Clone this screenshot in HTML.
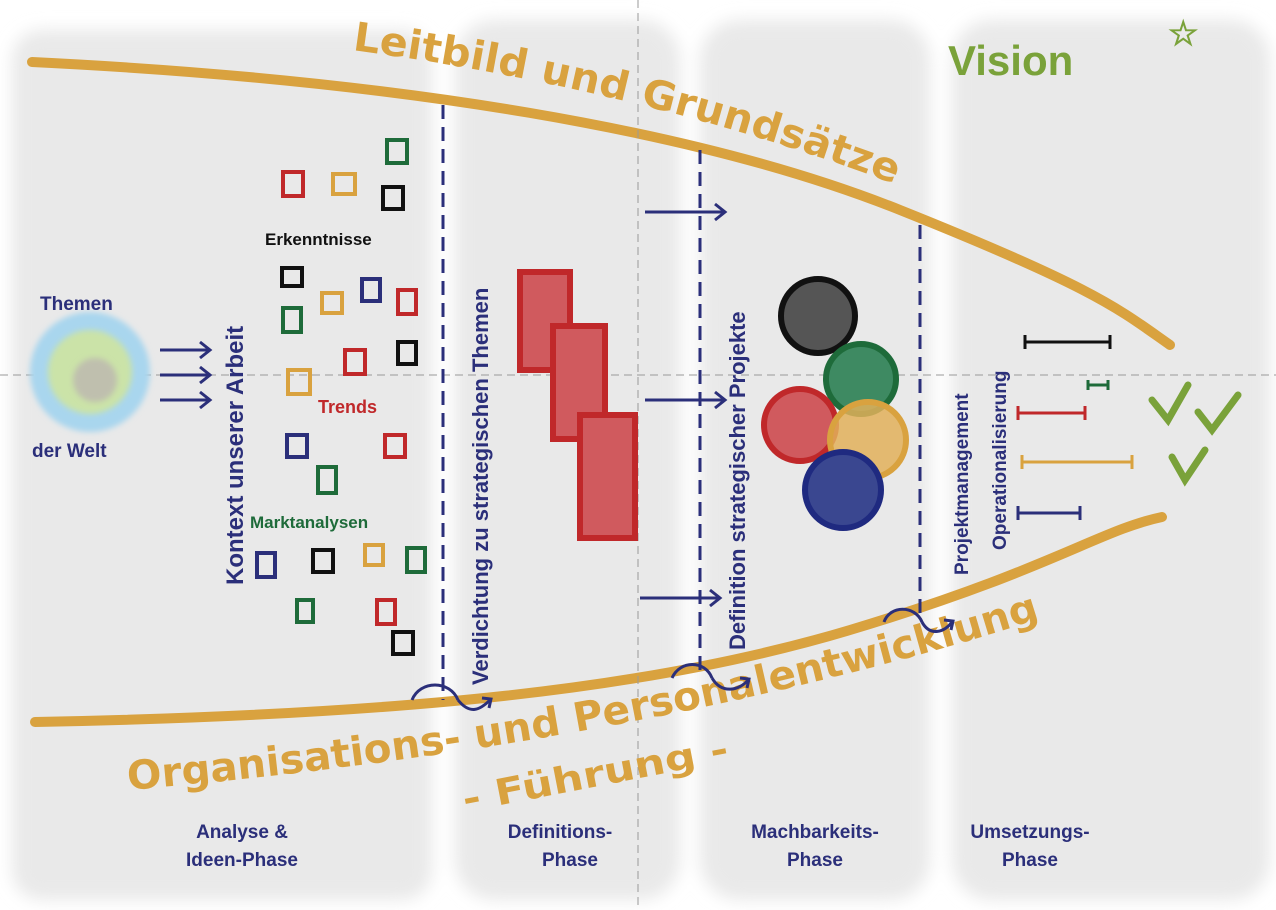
<!DOCTYPE html>
<html><head><meta charset="utf-8"><style>
html,body{margin:0;padding:0;background:#fff;}
svg{display:block;}
text{font-family:"Liberation Sans",sans-serif;font-weight:bold;}
</style></head><body>
<svg width="1276" height="910" viewBox="0 0 1276 910" xmlns="http://www.w3.org/2000/svg">
<defs>
<filter id="blur" x="-10%" y="-10%" width="120%" height="120%"><feGaussianBlur stdDeviation="8"/></filter>
<filter id="b2"><feGaussianBlur stdDeviation="3"/></filter>
<path id="tp1" d="M352 50 Q 650 90 905 188"/>
<path id="tp2" d="M128 790 Q 650 745 1052 615"/>
</defs>
<g fill="#e9e9e9" filter="url(#blur)">
<rect x="12" y="30" width="420" height="870" rx="30"/>
<rect x="455" y="20" width="225" height="880" rx="40"/>
<rect x="700" y="20" width="230" height="880" rx="40"/>
<rect x="952" y="20" width="318" height="880" rx="40"/>
</g>
<g fill="none" stroke="#d9a23f" stroke-width="10" stroke-linecap="round">
<path d="M32 62 C 400 80, 700 130, 900 210 S 1120 310, 1170 345"/>
<path d="M35 722 C 400 715, 650 690, 850 630 S 1100 530, 1162 517"/>
</g>
<g stroke="#999" stroke-width="1" stroke-dasharray="8,5">
<line x1="638" y1="0" x2="638" y2="910"/>
<line x1="0" y1="375" x2="1276" y2="375"/>
</g>
<g stroke="#2b2f7a" stroke-width="3" stroke-dasharray="14,8">
<line x1="443" y1="105" x2="443" y2="700"/>
<line x1="700" y1="150" x2="700" y2="670"/>
<line x1="920" y1="225" x2="920" y2="615"/>
</g>
<text font-size="40" fill="#d9a23f" font-weight="normal" style="font-family:'DejaVu Sans',sans-serif"><textPath href="#tp1" textLength="560" lengthAdjust="spacingAndGlyphs">Leitbild und Grundsätze</textPath></text>
<text x="948" y="75" font-size="42" fill="#7aa23a" font-weight="normal">Vision</text>
<text x="1168" y="45" font-size="34" fill="#7aa23a">☆</text>
<text font-size="40" fill="#d9a23f" font-weight="normal" style="font-family:'DejaVu Sans',sans-serif"><textPath href="#tp2" textLength="930" lengthAdjust="spacingAndGlyphs">Organisations- und Personalentwicklung</textPath></text>
<text x="465" y="812" font-size="36" fill="#d9a23f" transform="rotate(-11 465 812)" font-weight="normal" style="font-family:'DejaVu Sans',sans-serif" textLength="270" lengthAdjust="spacingAndGlyphs">- Führung -</text>
<circle cx="90" cy="372" r="60" fill="#a9d6ee" filter="url(#b2)"/>
<circle cx="90" cy="372" r="42" fill="#cbe3a8" filter="url(#b2)"/>
<circle cx="95" cy="380" r="22" fill="#bfbfae" filter="url(#b2)"/>
<text x="40" y="310" font-size="19" fill="#2b2f7a" font-weight="normal">Themen</text>
<text x="32" y="457" font-size="19" fill="#2b2f7a" font-weight="normal">der Welt</text>
<g stroke="#2b2f7a" stroke-width="3" fill="none">
<path d="M160 350 H210 M200 342 L210 350 200 358"/>
<path d="M160 375 H210 M200 367 L210 375 200 383"/>
<path d="M160 400 H210 M200 392 L210 400 200 408"/>
</g>
<text font-size="24" fill="#2b2f7a" transform="translate(243 585) rotate(-90)">Kontext unserer Arbeit</text>
<text font-size="22" fill="#2b2f7a" transform="translate(488 685) rotate(-90)">Verdichtung zu strategischen Themen</text>
<text font-size="22" fill="#2b2f7a" transform="translate(745 650) rotate(-90)">Definition strategischer Projekte</text>
<text font-size="19" fill="#2b2f7a" transform="translate(968 575) rotate(-90)">Projektmanagement</text>
<text font-size="19" fill="#2b2f7a" transform="translate(1006 550) rotate(-90)">Operationalisierung</text>
<text x="265" y="245" font-size="17" fill="#111">Erkenntnisse</text>
<text x="318" y="413" font-size="18" fill="#c0282a">Trends</text>
<text x="250" y="528" font-size="17" fill="#1e6b3a">Marktanalysen</text>
<g fill="none" stroke-width="4">
<rect x="387" y="140" width="20" height="23" stroke="#1e6b3a"/>
<rect x="283" y="172" width="20" height="24" stroke="#c0282a"/>
<rect x="333" y="174" width="22" height="20" stroke="#d9a23f"/>
<rect x="383" y="187" width="20" height="22" stroke="#111"/>
<rect x="282" y="268" width="20" height="18" stroke="#111"/>
<rect x="322" y="293" width="20" height="20" stroke="#d9a23f"/>
<rect x="362" y="279" width="18" height="22" stroke="#2b2f7a"/>
<rect x="398" y="290" width="18" height="24" stroke="#c0282a"/>
<rect x="283" y="308" width="18" height="24" stroke="#1e6b3a"/>
<rect x="345" y="350" width="20" height="24" stroke="#c0282a"/>
<rect x="398" y="342" width="18" height="22" stroke="#111"/>
<rect x="288" y="370" width="22" height="24" stroke="#d9a23f"/>
<rect x="287" y="435" width="20" height="22" stroke="#2b2f7a"/>
<rect x="385" y="435" width="20" height="22" stroke="#c0282a"/>
<rect x="318" y="467" width="18" height="26" stroke="#1e6b3a"/>
<rect x="257" y="553" width="18" height="24" stroke="#2b2f7a"/>
<rect x="313" y="550" width="20" height="22" stroke="#111"/>
<rect x="365" y="545" width="18" height="20" stroke="#d9a23f"/>
<rect x="407" y="548" width="18" height="24" stroke="#1e6b3a"/>
<rect x="297" y="600" width="16" height="22" stroke="#1e6b3a"/>
<rect x="377" y="600" width="18" height="24" stroke="#c0282a"/>
<rect x="393" y="632" width="20" height="22" stroke="#111"/>
</g>
<g fill="#d05a5e" stroke="#c0282a" stroke-width="6">
<rect x="520" y="272" width="50" height="98"/>
<rect x="553" y="326" width="52" height="113"/>
<rect x="580" y="415" width="55" height="123"/>
</g>
<g stroke="#2b2f7a" stroke-width="3" fill="none">
<path d="M645 212 H725 M715 204 L725 212 715 220"/>
<path d="M645 400 H725 M715 392 L725 400 715 408"/>
<path d="M640 598 H720 M710 590 L720 598 710 606"/>
<path d="M412 700 C 420 680, 450 680, 458 700 M458 700 C 470 715, 480 710, 490 700 M482 698 L491 699 489 708"/>
<path d="M672 678 C 680 660, 705 660, 712 678 M712 678 C 722 695, 740 690, 748 680 M740 678 L749 679 747 688"/>
<path d="M884 622 C 890 605, 915 605, 922 622 M922 622 C 930 637, 945 632, 952 622 M944 620 L953 621 951 630"/>
</g>
<g stroke-width="6">
<circle cx="818" cy="316" r="37" fill="#555" stroke="#111"/>
<circle cx="861" cy="379" r="35" fill="#3e8a62" stroke="#1e6b3a"/>
<circle cx="800" cy="425" r="36" fill="#d05a5e" stroke="#c0282a"/>
<circle cx="868" cy="440" r="38" fill="#e2b05a" stroke="#d9a23f" fill-opacity="0.85"/>
<circle cx="843" cy="490" r="38" fill="#3a4790" stroke="#1f2a80"/>
</g>
<g stroke-width="3">
<path d="M1025 342 H1110 M1025 335 V349 M1110 335 V349" stroke="#111"/>
<path d="M1088 385 H1108 M1088 380 V390 M1108 380 V390" stroke="#1e6b3a"/>
<path d="M1018 413 H1085 M1018 406 V420 M1085 406 V420" stroke="#c0282a"/>
<path d="M1022 462 H1132 M1022 455 V469 M1132 455 V469" stroke="#d9a23f"/>
<path d="M1018 513 H1080 M1018 506 V520 M1080 506 V520" stroke="#2b2f7a"/>
</g>
<g stroke="#7aa23a" stroke-width="7" fill="none" stroke-linecap="round">
<path d="M1152 400 L1168 420 1188 385"/>
<path d="M1198 412 L1212 430 1238 395"/>
<path d="M1172 457 L1185 480 1205 450"/>
</g>
<g fill="#2b2f7a" font-size="19" font-weight="normal" text-anchor="middle">
<text x="242" y="838">Analyse &amp;</text><text x="242" y="866">Ideen-Phase</text>
<text x="560" y="838">Definitions-</text><text x="570" y="866">Phase</text>
<text x="815" y="838">Machbarkeits-</text><text x="815" y="866">Phase</text>
<text x="1030" y="838">Umsetzungs-</text><text x="1030" y="866">Phase</text>
</g>
</svg>
</body></html>
